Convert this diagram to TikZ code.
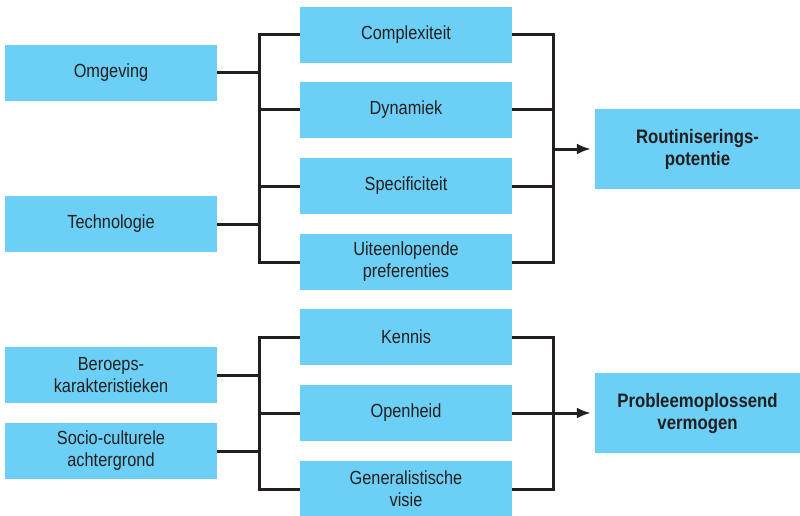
\documentclass[tikz,border=0pt]{standalone}
\usepackage{fontspec}
\setmainfont{Liberation Sans}[FakeStretch=0.86]
\usetikzlibrary{arrows.meta}
\definecolor{boxblue}{HTML}{6CCFF6}
\definecolor{ink}{HTML}{231F20}
\tikzset{
  box/.style={fill=boxblue, draw=none, text=ink, align=center, inner sep=0pt,
              font=\fontsize{19}{22}\selectfont},
  lbox/.style={box, minimum width=212pt, minimum height=56pt},
  mbox/.style={box, minimum width=212pt, minimum height=56pt},
  rbox/.style={box, minimum width=205pt, minimum height=80pt,
               font=\fontsize{19.5}{22}\selectfont\bfseries},
  conn/.style={draw=ink, line width=3pt},
  arr/.style={conn, -{Latex[length=14pt,width=11pt]}, shorten >=4pt},
}
\begin{document}
\begin{tikzpicture}[x=1pt,y=-1pt]
  \useasboundingbox (0,0) rectangle (800,516);

  % upper group
  \node[lbox] (omg)  at (111,73)  {Omgeving};
  \node[lbox] (tech) at (111,224) {Technologie};
  \node[mbox] (cplx) at (406,35)  {Complexiteit};
  \node[mbox] (dyn)  at (406,110) {Dynamiek};
  \node[mbox] (spec) at (406,186) {Specificiteit};
  \node[mbox] (uit)  at (406,262) {Uiteenlopende\\preferenties};
  \node[rbox] (rout) at (697.5,149) {Routiniserings-\\potentie};

  % lower group
  \node[lbox] (ber)  at (111,375) {Beroeps-\\karakteristieken};
  \node[lbox] (soc)  at (111,451) {Socio-culturele\\achtergrond};
  \node[mbox] (ken)  at (406,337) {Kennis};
  \node[mbox] (open) at (406,413) {Openheid};
  \node[mbox] (gen)  at (406,489) {Generalistische\\visie};
  \node[rbox] (prob) at (697.5,413) {Probleemoplossend\\vermogen};

  % bus columns
  \coordinate (lbus) at (259.5,0);
  \coordinate (rbus) at (553,0);

  % upper connectors
  \draw[conn] (cplx.west) -- (cplx.west -| lbus) |- (uit.west);
  \draw[conn] (dyn.west)  -- (dyn.west -| lbus);
  \draw[conn] (spec.west) -- (spec.west -| lbus);
  \draw[conn] (omg.east)  -- (omg.east -| lbus);
  \draw[conn] (tech.east) -- (tech.east -| lbus);
  \draw[conn] (cplx.east) -- (cplx.east -| rbus) |- (uit.east);
  \draw[conn] (dyn.east)  -- (dyn.east -| rbus);
  \draw[conn] (spec.east) -- (spec.east -| rbus);
  \draw[arr]  (rout.west -| rbus) -- (rout.west);

  % lower connectors
  \draw[conn] (ken.west)  -- (ken.west -| lbus) |- (gen.west);
  \draw[conn] (open.west) -- (open.west -| lbus);
  \draw[conn] (ber.east)  -- (ber.east -| lbus);
  \draw[conn] (soc.east)  -- (soc.east -| lbus);
  \draw[conn] (ken.east)  -- (ken.east -| rbus) |- (gen.east);
  \draw[arr]  (open.east) -- (prob.west);
\end{tikzpicture}
\end{document}
